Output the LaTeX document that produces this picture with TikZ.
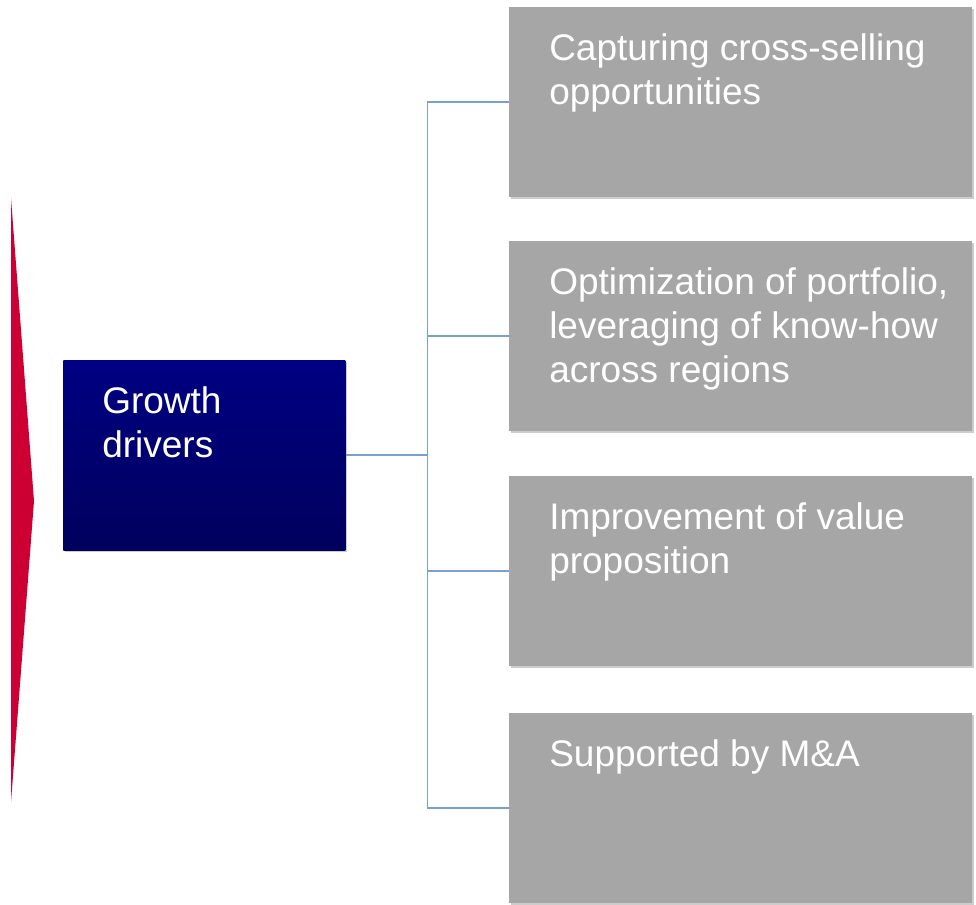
\documentclass[tikz,border=0pt]{standalone}
\usepackage{fontspec}
\setmainfont{Liberation Sans}
\usetikzlibrary{shadows}
\definecolor{navytop}{RGB}{0,0,130}
\definecolor{navybot}{RGB}{0,0,94}
\definecolor{boxgray}{RGB}{166,166,166}
\definecolor{linkblue}{RGB}{120,160,212}
\definecolor{arrowred}{RGB}{204,0,51}
\begin{document}
\begin{tikzpicture}[x=0.75pt,y=-0.75pt]
\tikzset{
  softshadow/.style={drop shadow={shadow xshift=1.2pt, shadow yshift=-1.5pt, opacity=0.2, fill=black}},
  graybox/.style={fill=boxgray, draw=none, anchor=north west, inner sep=0pt,
    minimum width=347.25pt, minimum height=142.5pt, softshadow},
  bluebox/.style={top color=navytop, bottom color=navybot, draw=none, anchor=north west, inner sep=0pt,
    minimum width=211.5pt, minimum height=142.5pt, softshadow},
  boxtext/.style={anchor=north west, inner sep=0pt, align=left, text=white,
    font=\fontsize{27.75pt}{33pt}\selectfont},
  link/.style={draw=linkblue, line width=1.4pt}
}
\newcommand{\firstline}{\rule{0pt}{22.5pt}}
\useasboundingbox (0,0) rectangle (976,905);

% red chevron
\fill[arrowred] (11,198) -- (34,501) -- (11,802) -- cycle;

% main box
\node[bluebox] (gd) at (63,360) {};
\node[boxtext] (gdt) at (102,383) {\firstline Growth\\drivers};

% right boxes
\node[graybox] (b1) at (509,7) {};
\node[graybox] (b2) at (509,241) {};
\node[graybox] (b3) at (509,476) {};
\node[graybox] (b4) at (509,713) {};

\node[boxtext] (t1) at (549,30) {\firstline Capturing cross-selling\\opportunities};
\node[boxtext] (t2) at (549,264) {\firstline Optimization of portfolio,\\leveraging of know-how\\across regions};
\node[boxtext] (t3) at (549,499) {\firstline Improvement of value\\proposition};
\node[boxtext] (t4) at (549,736) {\firstline Supported by M\&A};

% connectors
\path (gd.east) -- ++(82,0) coordinate (j);
\draw[link] (gd.east) -- (j);
\draw[link] (j) |- (b1.west);
\draw[link] (j) |- (b2.west);
\draw[link] (j) |- (b3.west);
\draw[link] (j) |- (b4.west);
\end{tikzpicture}
\end{document}
